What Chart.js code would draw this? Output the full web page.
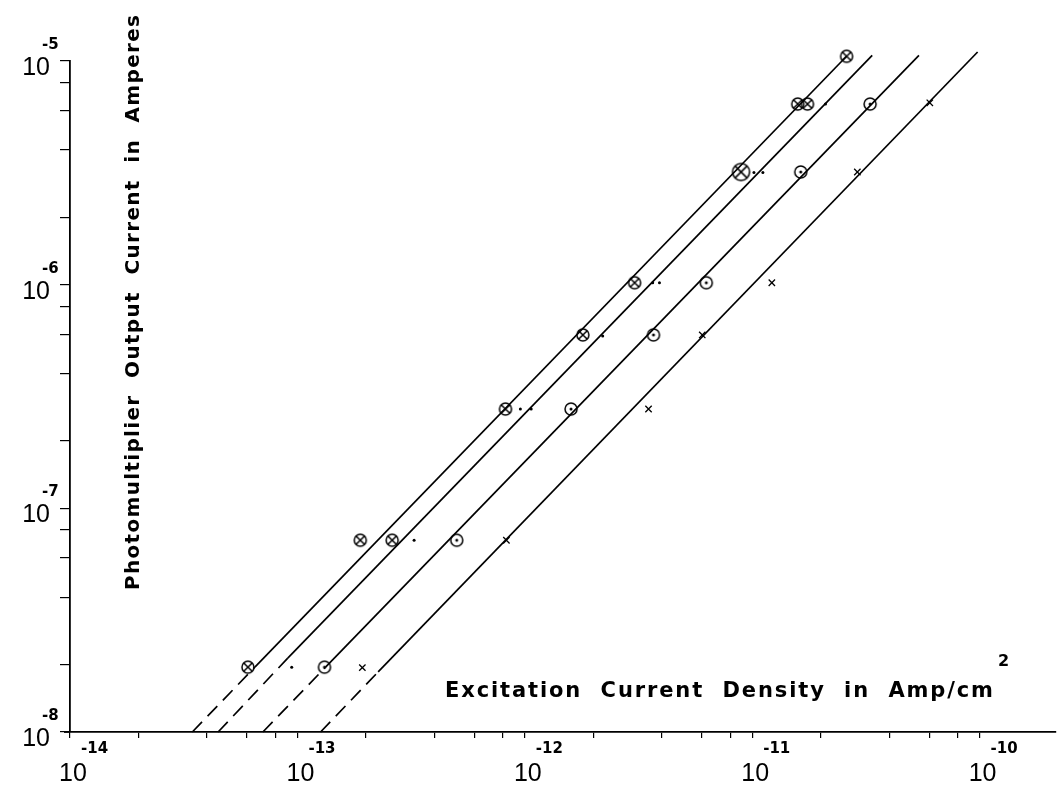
<!DOCTYPE html>
<html>
<head>
<meta charset="utf-8">
<script src="https://cdn.jsdelivr.net/npm/chart.js@4.4.1/dist/chart.umd.min.js"></script>
<style>
  html, body { margin: 0; padding: 0; background: #fff; }
  #wrap { width: 1061px; height: 785px; }
</style>
</head>
<body>
<div id="wrap"><canvas id="chart"></canvas></div>
<script>
// axis decades and their exponent labels
const xDecades = [1e-14, 1e-13, 1e-12, 1e-11, 1e-10];
const xExponents = ["-14", "-13", "-12", "-11", "-10"];
const yDecades = [1e-8, 1e-7, 1e-6, 1e-5];
const yExponents = ["-8", "-7", "-6", "-5"];
const minorSteps = [1, 2, 4, 6, 8];

// crossed circles
const crossedX = [6.06e-14, 1.89e-13, 2.61e-13, 8.22e-13, 1.80e-12, 3.04e-12, 8.93e-12, 1.585e-11, 1.75e-11, 2.60e-11];
const crossedY = [1.95e-8, 7.2e-8, 7.2e-8, 2.78e-7, 5.96e-7, 1.02e-6, 3.19e-6, 6.42e-6, 6.42e-6, 1.05e-5];
// small dots
const dotX = [9.44e-14, 3.26e-13, 9.56e-13, 1.067e-12, 2.20e-12, 3.65e-12, 3.91e-12, 1.018e-11, 1.114e-11, 2.10e-11, 3.37e-11];
const dotY = [1.95e-8, 7.2e-8, 2.78e-7, 2.78e-7, 5.9e-7, 1.02e-6, 1.02e-6, 3.17e-6, 3.17e-6, 6.42e-6, 1.06e-5];
// dotted circles
const circledX = [1.315e-13, 5.02e-13, 1.597e-12, 3.68e-12, 6.28e-12, 1.634e-11, 3.30e-11, 5.41e-11];
const circledY = [1.95e-8, 7.2e-8, 2.78e-7, 5.96e-7, 1.02e-6, 3.19e-6, 6.42e-6, 1.06e-5];
// crosses
const crossX = [1.93e-13, 8.30e-13, 3.50e-12, 6.03e-12, 1.22e-11, 2.90e-11, 6.04e-11, 9.8e-11];
const crossY = [1.94e-8, 7.2e-8, 2.78e-7, 5.96e-7, 1.02e-6, 3.19e-6, 6.5e-6, 1.08e-5];

// drawn lines: axis end, start of solid part, top end
const line1X = [3.45e-14, 6.50e-14, 2.60e-11];
const line1Y = [1e-8, 1.95e-8, 1.05e-5];
const line2X = [4.48e-14, 9.07e-14, 3.37e-11];
const line2Y = [1e-8, 2.14e-8, 1.06e-5];
const line3X = [7.05e-14, 1.33e-13, 5.41e-11];
const line3Y = [1e-8, 1.95e-8, 1.06e-5];
const line4X = [1.264e-13, 2.265e-13, 9.8e-11];
const line4Y = [1e-8, 1.857e-8, 1.097e-5];

const pts = (xs, ys) => xs.map((v, i) => ({ x: v, y: ys[i] }));
const decadeTicks = (decs) => {
  const out = [];
  decs.forEach(d => minorSteps.forEach(m => out.push({ value: d * m })));
  return out;
};

function marker(r, kind) {
  const s = Math.ceil(r * 2 + 4);
  const c = document.createElement("canvas");
  c.width = c.height = s;
  const g = c.getContext("2d");
  const m = s / 2;
  g.strokeStyle = "#000";
  g.fillStyle = "#000";
  g.lineWidth = 1.5;
  g.beginPath();
  g.arc(m, m, r, 0, Math.PI * 2);
  g.stroke();
  if (kind === "x") {
    const d = r * 0.72;
    g.beginPath();
    g.moveTo(m - d, m - d); g.lineTo(m + d, m + d);
    g.moveTo(m + d, m - d); g.lineTo(m - d, m + d);
    g.stroke();
  } else {
    g.beginPath();
    g.arc(m, m, 1.5, 0, Math.PI * 2);
    g.fill();
  }
  return c;
}
const crossedImg = marker(6, "x");
const crossedBig = marker(8.5, "x");
const circledImg = marker(6, "dot");

const lineSet = (xs, ys) => ({
  data: pts(xs, ys),
  showLine: true,
  borderColor: "#000",
  borderWidth: 1.7,
  pointRadius: 0,
  clip: false,
  segment: { borderDash: c => c.p0DataIndex === 0 ? [14, 8] : undefined }
});

function spacedText(ctx, text, x, y, target) {
  let w0 = 0;
  for (const ch of text) w0 += ctx.measureText(ch).width;
  const gap = (target - w0) / (text.length - 1);
  let cx = x;
  for (const ch of text) {
    ctx.fillText(ch, cx, y);
    cx += ctx.measureText(ch).width + gap;
  }
}

const labelPlugin = {
  id: "handLabels",
  afterDraw(chart) {
    const { ctx } = chart;
    const xs = chart.scales.x, ys = chart.scales.y;
    ctx.save();
    ctx.fillStyle = "#000";
    ctx.textBaseline = "alphabetic";

    // little stub of the x axis left of the origin
    ctx.strokeStyle = "#000";
    ctx.lineWidth = 1.8;
    ctx.beginPath();
    ctx.moveTo(chart.chartArea.left - 6, chart.chartArea.bottom);
    ctx.lineTo(chart.chartArea.left, chart.chartArea.bottom);
    ctx.stroke();

    xDecades.forEach((v, i) => {
      const px = xs.getPixelForValue(v);
      ctx.font = '25px "Liberation Sans"';
      ctx.textAlign = "center";
      ctx.fillText("10", px + 3, 781);
      ctx.font = 'bold 15px "DejaVu Sans"';
      ctx.textAlign = "left";
      ctx.fillText(xExponents[i], px + 11, 753);
    });
    yDecades.forEach((v, i) => {
      const py = ys.getPixelForValue(v);
      ctx.font = '25px "Liberation Sans"';
      ctx.textAlign = "right";
      ctx.fillText("10", 50, py + 14);
      ctx.font = 'bold 15px "DejaVu Sans"';
      ctx.textAlign = "left";
      ctx.fillText(yExponents[i], 42, py - 12);
    });

    // titles lettered inside the plot
    ctx.textAlign = "left";
    ctx.font = 'bold 21px "DejaVu Sans"';
    spacedText(ctx, "Excitation  Current  Density  in  Amp/cm", 445, 697, 548);
    ctx.font = 'bold 16px "DejaVu Sans"';
    ctx.fillText("2", 998, 666);

    ctx.save();
    ctx.translate(139, 590);
    ctx.rotate(-Math.PI / 2);
    ctx.font = 'bold 20px "DejaVu Sans"';
    spacedText(ctx, "Photomultiplier  Output  Current  in  Amperes", 0, 0, 575);
    ctx.restore();
    ctx.restore();
  }
};

new Chart(document.getElementById("chart"), {
  type: "scatter",
  data: {
    datasets: [
      lineSet(line1X, line1Y),
      lineSet(line2X, line2Y),
      lineSet(line3X, line3Y),
      lineSet(line4X, line4Y),
      {
        data: pts(crossedX, crossedY),
        pointStyle: c => c.dataIndex === 6 ? crossedBig : crossedImg,
        clip: false
      },
      {
        data: pts(circledX, circledY),
        pointStyle: circledImg,
        clip: false
      },
      {
        data: pts(dotX, dotY),
        pointStyle: "circle",
        pointRadius: 1.5,
        backgroundColor: "#000",
        borderColor: "#000",
        borderWidth: 0,
        clip: false
      },
      {
        data: pts(crossX, crossY),
        pointStyle: "crossRot",
        pointRadius: 4.5,
        borderColor: "#000",
        borderWidth: 1.3,
        clip: false
      }
    ]
  },
  options: {
    responsive: true,
    maintainAspectRatio: false,
    animation: false,
    events: [],
    layout: { padding: { left: 60, top: 61, right: 0, bottom: 47 } },
    plugins: { legend: { display: false }, tooltip: { enabled: false } },
    scales: {
      x: {
        type: "logarithmic",
        min: 1e-14,
        max: 2.15e-10,
        afterBuildTicks: s => { s.ticks = decadeTicks(xDecades.slice(0, 4)).concat([{ value: 1e-10 }]); },
        ticks: { display: false },
        grid: { drawOnChartArea: false, tickLength: 6, color: "#000", lineWidth: 1.2 },
        border: { color: "#000", width: 1.8 }
      },
      y: {
        type: "logarithmic",
        min: 1e-8,
        max: 1e-5,
        afterBuildTicks: s => { s.ticks = decadeTicks(yDecades.slice(0, 3)).concat([{ value: 1e-5 }]); },
        ticks: { display: false },
        grid: { drawOnChartArea: false, tickLength: 10, color: "#000", lineWidth: 1.2 },
        border: { color: "#000", width: 1.8 }
      }
    }
  },
  plugins: [labelPlugin]
});
</script>
</body>
</html>
